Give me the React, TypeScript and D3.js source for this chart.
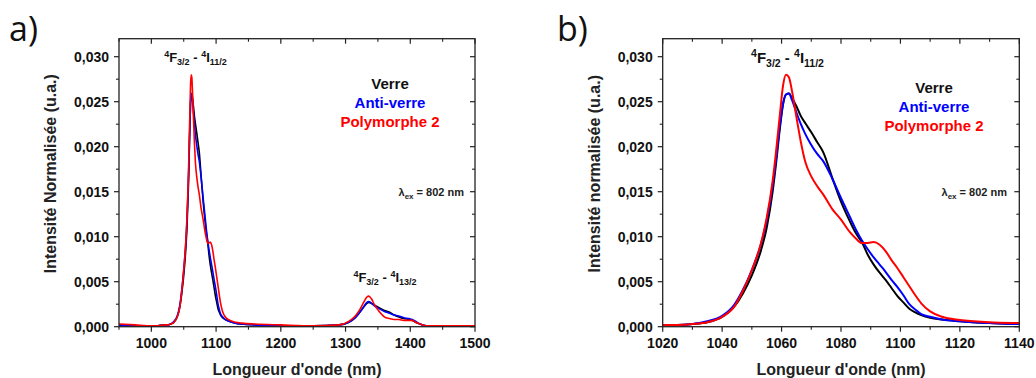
import React from "react";
import * as d3 from "d3";

// ---------- DATA ----------
const wavelengths = [
  950, 975, 1000, 1010, 1020, 1025, 1030, 1035, 1040, 1044, 1047, 1050, 1053, 1055, 1057, 1058,
  1059.5, 1060.5, 1061.5, 1062.5, 1063.5, 1065, 1066.5, 1068, 1070, 1072, 1074, 1077, 1080, 1083,
  1085, 1087, 1089, 1091, 1093, 1095, 1097, 1099, 1101, 1103, 1105, 1107, 1110, 1114, 1120, 1130,
  1140, 1160, 1200, 1250, 1290, 1305, 1315, 1322, 1328, 1333, 1336, 1340, 1345, 1352, 1360, 1368,
  1375, 1382, 1390, 1398, 1403, 1408, 1415, 1425, 1440, 1470, 1500,
];

const verre = [
  0.0002, 0.0001, 0.0001, 0.0001, 0.0002, 0.0002, 0.0003, 0.0005, 0.0011, 0.0022, 0.0037, 0.0057,
  0.0084, 0.011, 0.015, 0.0177, 0.0222, 0.0247, 0.0258, 0.0259, 0.0254, 0.0245, 0.0234, 0.0226,
  0.0216, 0.0205, 0.0194, 0.0166, 0.0139, 0.0117, 0.0104, 0.0094, 0.008, 0.0069, 0.006, 0.0052,
  0.0043, 0.0034, 0.0027, 0.002, 0.0016, 0.0013, 0.001, 0.0008, 0.0006, 0.0004, 0.0003, 0.0002,
  0.0001, 0.0001, 0.0002, 0.0005, 0.001, 0.0016, 0.0022, 0.0026, 0.0027, 0.0026, 0.0024, 0.0021,
  0.0018, 0.0016, 0.0013, 0.0011, 0.0009, 0.0008, 0.0007, 0.0005, 0.0003, 0.0001, 0.0001, 0.0001,
  0.0001,
];

const antiVerre = [
  0.0002, 0.0001, 0.0001, 0.0001, 0.0002, 0.0002, 0.0003, 0.0006, 0.0012, 0.0024, 0.0041, 0.0063,
  0.0091, 0.0118, 0.0157, 0.0182, 0.0225, 0.0248, 0.0258, 0.0259, 0.0252, 0.0238, 0.0225, 0.0214,
  0.0202, 0.0192, 0.0184, 0.0165, 0.0143, 0.0122, 0.0108, 0.0096, 0.0086, 0.0077, 0.0069, 0.0061,
  0.0052, 0.0044, 0.0035, 0.0025, 0.0019, 0.0014, 0.0011, 0.0008, 0.0006, 0.0004, 0.0003, 0.0002,
  0.0001, 0.0001, 0.0002, 0.0005, 0.001, 0.0016, 0.0022, 0.0027, 0.0028, 0.0026, 0.0023, 0.002,
  0.0017, 0.0015, 0.0013, 0.0012, 0.001, 0.0009, 0.0008, 0.0006, 0.0003, 0.0001, 0.0001, 0.0001,
  0.0001,
];

const polymorphe2 = [
  0.0003, 0.0002, 0.0001, 0.0001, 0.0002, 0.0002, 0.0003, 0.0005, 0.0011, 0.0022, 0.004, 0.0063,
  0.0092, 0.0121, 0.0162, 0.019, 0.0238, 0.0268, 0.028, 0.0277, 0.0262, 0.0233, 0.0205, 0.0183,
  0.0167, 0.0156, 0.0147, 0.0131, 0.0119, 0.0105, 0.0098, 0.0093, 0.0093, 0.0094, 0.0091, 0.0084,
  0.0074, 0.0065, 0.0055, 0.0045, 0.0035, 0.0026, 0.0017, 0.0011, 0.00075, 0.0005, 0.0004, 0.0003,
  0.0002, 0.0001, 0.0002, 0.0006, 0.0012, 0.0019, 0.0027, 0.0033, 0.0034, 0.0031, 0.0024, 0.0017,
  0.0011, 0.0009, 0.0008, 0.0008, 0.0007, 0.0007, 0.0007, 0.0005, 0.0003, 0.0001, 0.0001, 0.0001,
  0.0001,
];

const seriesNames = ["Verre", "Anti-verre", "Polymorphe 2"];
const seriesValues = [verre, antiVerre, polymorphe2];
const seriesColors = ["#000000", "#0000ff", "#ff0000"];

const yDomain = [0, 0.032];
const yTicks = [0, 0.005, 0.01, 0.015, 0.02, 0.025, 0.03];
const yTickLabels = ["0,000", "0,005", "0,010", "0,015", "0,020", "0,025", "0,030"];
const yMinorTicks = [0.0025, 0.0075, 0.0125, 0.0175, 0.0225, 0.0275];

const aXDomain = [950, 1500];
const aXTicks = [1000, 1100, 1200, 1300, 1400, 1500];
const aXMinorTicks = [950, 1050, 1150, 1250, 1350, 1450];

const bXDomain = [1020, 1140];
const bXTicks = [1020, 1040, 1060, 1080, 1100, 1120, 1140];
const bXMinorTicks = [1030, 1050, 1070, 1090, 1110, 1130];

// ---------- LAYOUT ----------
const W = 1036;
const H = 378;
const TOP = 38.7;
const BOTTOM = 326.7;
const FONT = "'Liberation Sans', Arial, sans-serif";

type Cfg = {
  id: string;
  left: number;
  right: number;
  xDomain: number[];
  xTicks: number[];
  xMinor: number[];
  lineWidth: number;
  letter: string;
  letterX: number;
  yTitle: string;
  yTitleX: number;
  legendX: number;
  legendY: number;
  lambdaRight: number;
  annotSize: number;
  annotSub: number;
  annots: { x: number; y: number; lower: string }[];
};

function Annot({ x, y, lower, size, sub }: { x: number; y: number; lower: string; size: number; sub: number }) {
  const up = size * 0.38;
  const down = size * 0.25;
  return (
    <text x={x} y={y} textAnchor="middle" fontFamily={FONT} fontWeight="bold" fontSize={size} fill="#111">
      <tspan fontSize={sub} dy={-up}>4</tspan>
      <tspan dy={up}>F</tspan>
      <tspan fontSize={sub} dy={down}>3/2</tspan>
      <tspan dy={-down}>{" - "}</tspan>
      <tspan fontSize={sub} dy={-up}>4</tspan>
      <tspan dy={up}>I</tspan>
      <tspan fontSize={sub} dy={down}>{lower}</tspan>
    </text>
  );
}

function Panel({ cfg }: { cfg: Cfg }) {
  const x = d3.scaleLinear().domain(cfg.xDomain).range([cfg.left, cfg.right]);
  const y = d3.scaleLinear().domain(yDomain).range([BOTTOM, TOP]);
  const line = d3
    .line<number>()
    .x((_, i) => x(wavelengths[i]))
    .y((d) => y(d))
    .curve(d3.curveMonotoneX);
  const major = 5;
  const minor = 3;
  const axisColor = "#222";
  const clipId = `clip-${cfg.id}`;
  return (
    <g>
      <defs>
        <clipPath id={clipId}>
          <rect x={cfg.left} y={TOP} width={cfg.right - cfg.left} height={BOTTOM - TOP} />
        </clipPath>
      </defs>
      <text x={cfg.letterX} y={41} fontFamily="'Open Sans', sans-serif" fontSize={34} fill="#111">
        {cfg.letter}
      </text>
      <g clipPath={`url(#${clipId})`}>
        {seriesValues.map((vals, i) => (
          <path key={i} d={line(vals) || ""} fill="none" stroke={seriesColors[i]} strokeWidth={cfg.lineWidth} strokeLinejoin="round" />
        ))}
      </g>
      <rect x={cfg.left} y={TOP} width={cfg.right - cfg.left} height={BOTTOM - TOP} fill="none" stroke={axisColor} strokeWidth={1.3} />
      {/* x ticks */}
      {cfg.xTicks.map((t) => (
        <g key={`xt${t}`}>
          <line x1={x(t)} x2={x(t)} y1={BOTTOM} y2={BOTTOM + major} stroke={axisColor} strokeWidth={1.2} />
          <line x1={x(t)} x2={x(t)} y1={TOP} y2={TOP + major} stroke={axisColor} strokeWidth={1.2} />
          <text x={x(t)} y={348} textAnchor="middle" fontFamily={FONT} fontWeight="bold" fontSize={14} fill="#111">
            {t}
          </text>
        </g>
      ))}
      {cfg.xMinor.map((t) => (
        <g key={`xm${t}`}>
          <line x1={x(t)} x2={x(t)} y1={BOTTOM} y2={BOTTOM + minor} stroke={axisColor} strokeWidth={1.1} />
          <line x1={x(t)} x2={x(t)} y1={TOP} y2={TOP + minor} stroke={axisColor} strokeWidth={1.1} />
        </g>
      ))}
      {/* y ticks */}
      {yTicks.map((t, i) => (
        <g key={`yt${t}`}>
          <line x1={cfg.left - major} x2={cfg.left} y1={y(t)} y2={y(t)} stroke={axisColor} strokeWidth={1.2} />
          <line x1={cfg.right - major} x2={cfg.right} y1={y(t)} y2={y(t)} stroke={axisColor} strokeWidth={1.2} />
          <text x={cfg.left - 10} y={y(t) + 5} textAnchor="end" fontFamily={FONT} fontWeight="bold" fontSize={14} fill="#111">
            {yTickLabels[i]}
          </text>
        </g>
      ))}
      {yMinorTicks.map((t) => (
        <g key={`ym${t}`}>
          <line x1={cfg.left - minor} x2={cfg.left} y1={y(t)} y2={y(t)} stroke={axisColor} strokeWidth={1.1} />
          <line x1={cfg.right - minor} x2={cfg.right} y1={y(t)} y2={y(t)} stroke={axisColor} strokeWidth={1.1} />
        </g>
      ))}
      {/* titles */}
      <text x={(cfg.left + cfg.right) / 2} y={375} textAnchor="middle" fontFamily={FONT} fontWeight="bold" fontSize={16} fill="#222">
        Longueur d'onde (nm)
      </text>
      <text
        transform={`translate(${cfg.yTitleX},${(TOP + BOTTOM) / 2 - 9}) rotate(-90)`}
        textAnchor="middle"
        fontFamily={FONT}
        fontWeight="bold"
        fontSize={16}
        fill="#222"
      >
        {cfg.yTitle}
      </text>
      {/* legend */}
      {seriesNames.map((n, i) => (
        <text key={n} x={cfg.legendX} y={cfg.legendY + i * 19} textAnchor="middle" fontFamily={FONT} fontWeight="bold" fontSize={15} fill={seriesColors[i] === "#000000" ? "#111" : seriesColors[i]}>
          {n}
        </text>
      ))}
      {/* excitation */}
      <text x={cfg.lambdaRight} y={196} textAnchor="end" fontFamily={FONT} fontWeight="bold" fontSize={11} fill="#222">
        λ<tspan fontSize={8} dy={3}>ex</tspan>
        <tspan dy={-3}>{" = 802 nm"}</tspan>
      </text>
      {cfg.annots.map((a, i) => (
        <Annot key={i} x={a.x} y={a.y} lower={a.lower} size={cfg.annotSize} sub={cfg.annotSub} />
      ))}
    </g>
  );
}

const panelA: Cfg = {
  id: "a",
  left: 119,
  right: 475,
  xDomain: aXDomain,
  xTicks: aXTicks,
  xMinor: aXMinorTicks,
  lineWidth: 1.6,
  letter: "a)",
  letterX: 9,
  yTitle: "Intensité Normalisée (u.a.)",
  yTitleX: 56,
  legendX: 390,
  legendY: 88.5,
  lambdaRight: 464,
  annotSize: 13,
  annotSub: 9,
  annots: [
    { x: 195.5, y: 61.5, lower: "11/2" },
    { x: 385, y: 281.5, lower: "13/2" },
  ],
};

const panelB: Cfg = {
  id: "b",
  left: 662.7,
  right: 1019.3,
  xDomain: bXDomain,
  xTicks: bXTicks,
  xMinor: bXMinorTicks,
  lineWidth: 2,
  letter: "b)",
  letterX: 557,
  yTitle: "Intensité normalisée (u.a.)",
  yTitleX: 600,
  legendX: 934,
  legendY: 93,
  lambdaRight: 1007,
  annotSize: 15,
  annotSub: 10.5,
  annots: [{ x: 787.5, y: 63, lower: "11/2" }],
};

export default function App() {
  return (
    <svg width={W} height={H} style={{ position: "absolute", left: 0, top: 0, background: "#fff" }}>
      <rect x={0} y={0} width={W} height={H} fill="#fff" />
      <Panel cfg={panelA} />
      <Panel cfg={panelB} />
    </svg>
  );
}
